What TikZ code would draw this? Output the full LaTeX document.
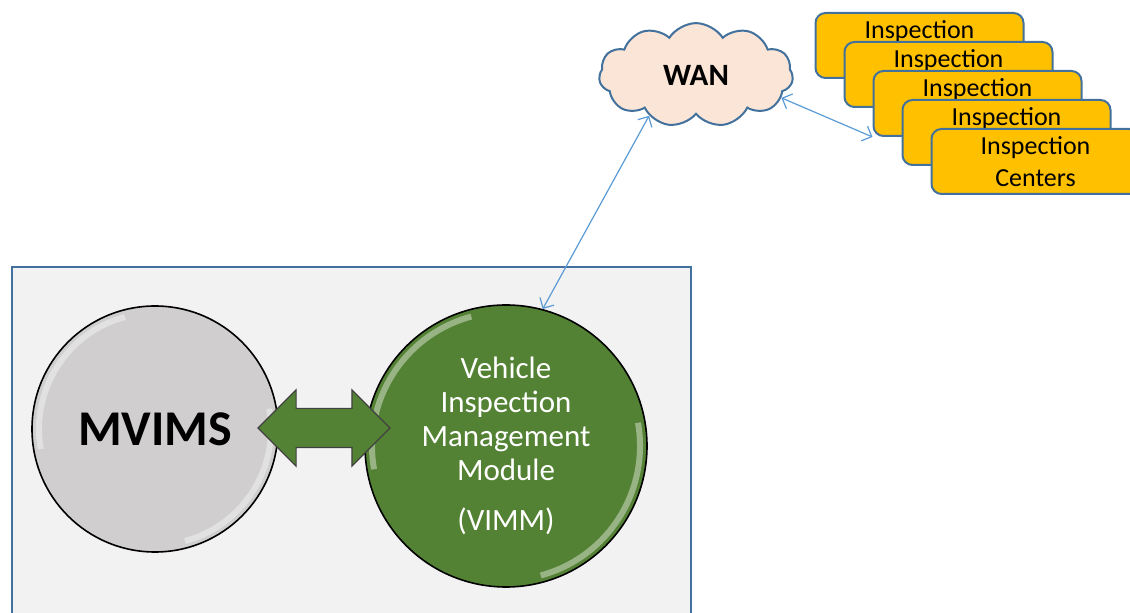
\documentclass[tikz,border=0pt]{standalone}
\usepackage{fontspec}
\setmainfont{Carlito}
\usetikzlibrary{shapes.symbols,shapes.arrows,arrows.meta}

\definecolor{edgeblue}{HTML}{41719C}
\definecolor{linkblue}{HTML}{5B9BD5}
\definecolor{panelgray}{HTML}{F2F2F2}
\definecolor{mvimsgray}{HTML}{D0CECE}
\definecolor{vimmgreen}{HTML}{548235}
\definecolor{cloudpeach}{HTML}{FBE5D6}
\definecolor{centergold}{HTML}{FFC000}

\tikzset{
    gloss/.style={path picture={
        \draw[white,opacity=.4,line width=3pt]
            ([shift={(-105:#1)}]path picture bounding box.center) arc[start angle=-105,end angle=-190,radius=#1];
        \draw[white,opacity=.4,line width=3pt]
            ([shift={(75:#1)}]path picture bounding box.center) arc[start angle=75,end angle=-10,radius=#1];
    }},
    hub/.style={circle,draw=black,line width=0.8pt,inner sep=0pt,align=center},
    icbox/.style={rectangle,rounded corners=5pt,draw=edgeblue,line width=1pt,fill=centergold,
        minimum width=104pt,minimum height=32.5pt,inner sep=0pt,align=center,
        font=\fontsize{13}{16}\selectfont},
    wanlink/.style={linkblue,line width=0.6pt,{Straight Barb[length=4pt,width=8pt]}-{Straight Barb[length=4pt,width=8pt]}}
}

\begin{document}
\begin{tikzpicture}[x=0.5pt,y=-0.5pt]
    \useasboundingbox (0,0) rectangle (1130,613);

    % system panel
    \draw[draw=edgeblue,fill=panelgray,line width=1pt] (12,267) rectangle (691,640);

    \node[hub,fill=mvimsgray,minimum size=123pt,gloss=116,
          font=\fontsize{25}{30}\selectfont\bfseries] (mvims) at (155,429) {MVIMS};
    \node[hub,fill=vimmgreen,minimum size=141pt,gloss=134,text=white,
          font=\fontsize{15.5}{17}\selectfont] (vimm) at (506,446)
          {Vehicle\\Inspection\\Management\\Module\\[8pt](VIMM)};

    \node[double arrow,draw=black!75,line width=0.6pt,fill=vimmgreen,inner xsep=0pt,inner ysep=9.5pt,
          minimum height=66pt,double arrow head extend=9.25pt] (link) at (324,428) {};

    % network side
    \node[cloud,cloud puffs=11,cloud puff arc=115,draw=edgeblue,line width=1pt,fill=cloudpeach,
          minimum width=97pt,minimum height=50pt,inner sep=0pt,
          font=\fontsize{15.5}{18}\selectfont\bfseries] (wan) at (696,75) {WAN};

    \node[icbox] (ic1) at (919.5,45.5) {Inspection\\\phantom{Centers}};
    \node[icbox] (ic2) at ([shift={(29,29)}]ic1) {Inspection\\\phantom{Centers}};
    \node[icbox] (ic3) at ([shift={(29,29)}]ic2) {Inspection\\\phantom{Centers}};
    \node[icbox] (ic4) at ([shift={(29,29)}]ic3) {Inspection\\\phantom{Centers}};
    \node[icbox] (ic5) at ([shift={(29,29)}]ic4) {Inspection\\Centers};

    \draw[wanlink] (vimm.75) -- (wan.221);
    \draw[wanlink] (wan.-15) -- (ic3.south west);
\end{tikzpicture}
\end{document}
